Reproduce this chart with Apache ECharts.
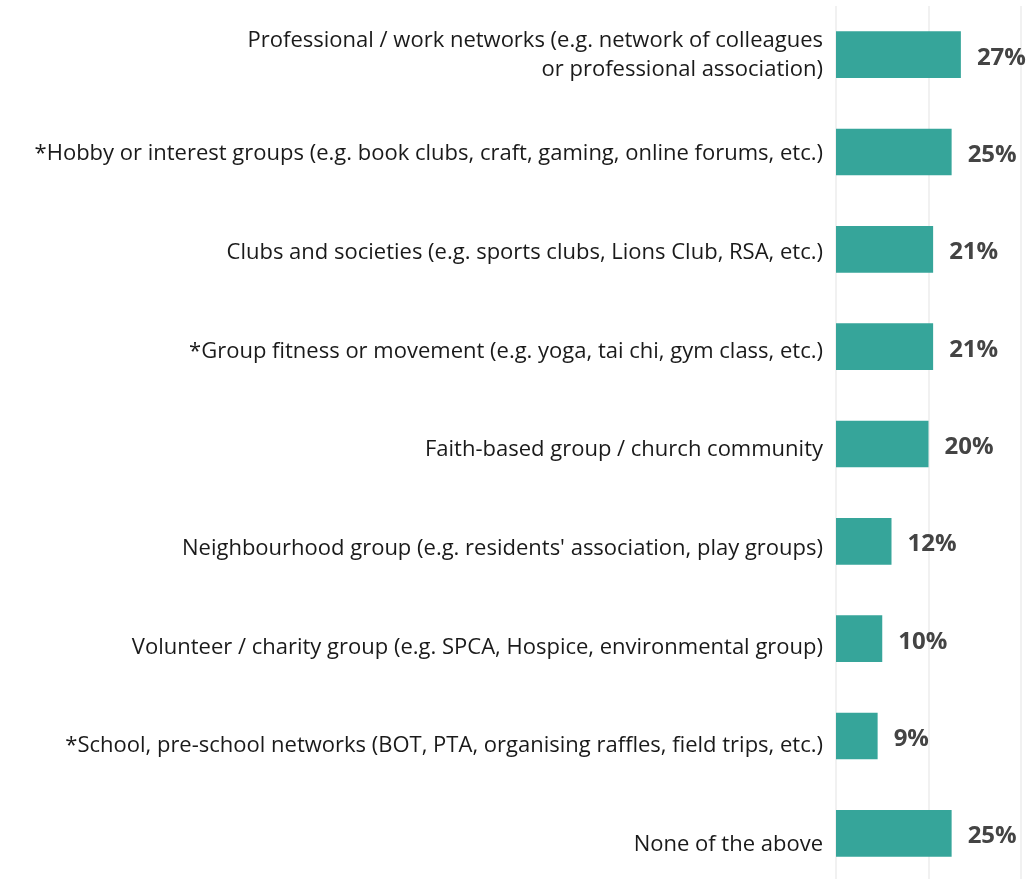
<!DOCTYPE html>
<html>
<head>
<meta charset="utf-8">
<script src="https://cdn.jsdelivr.net/npm/echarts@6/dist/echarts.min.js"></script>
<style>
    html, body { margin: 0; padding: 0; background: #fff; }
    #chart { width: 1033px; height: 879px; }
</style>
</head>
<body>
<div id="chart"></div>
<script>
    // 数据
    var categories = [
        'Professional / work networks (e.g. network of colleagues\nor professional association)',
        '*Hobby or interest groups (e.g. book clubs, craft, gaming, online forums, etc.)',
        'Clubs and societies (e.g. sports clubs, Lions Club, RSA, etc.)',
        '*Group fitness or movement (e.g. yoga, tai chi, gym class, etc.)',
        'Faith-based group / church community',
        'Neighbourhood group (e.g. residents\' association, play groups)',
        'Volunteer / charity group (e.g. SPCA, Hospice, environmental group)',
        '*School, pre-school networks (BOT, PTA, organising raffles, field trips, etc.)',
        'None of the above'
    ];
    var values = [27, 25, 21, 21, 20, 12, 10, 9, 25];

    var chart = echarts.init(document.getElementById('chart'));

    var option = {
        animation: false,
        grid: [
            { left: 836, top: 6, width: 185, height: 876, outerBoundsMode: 'none' },     // 柱子
            { left: 836, top: 6, width: 185, height: 888, outerBoundsMode: 'none' }      // 分类标签
        ],
        xAxis: [{
            gridIndex: 0,
            type: 'value',
            min: 0,
            max: 40,
            interval: 20,
            axisLine: { show: false },
            axisTick: { show: false },
            axisLabel: { show: false },
            splitLine: {
                show: true,
                lineStyle: { color: '#ececec', width: 1.5 }
            }
        }, {
            gridIndex: 1,
            type: 'value',
            min: 0,
            max: 40,
            show: false
        }],
        yAxis: [{
            gridIndex: 0,
            type: 'category',
            inverse: true,
            data: categories,
            axisLine: { show: false },
            axisTick: { show: false },
            axisLabel: { show: false }
        }, {
            gridIndex: 1,
            type: 'category',
            inverse: true,
            data: categories,
            axisLine: { show: false },
            axisTick: { show: false },
            splitLine: { show: false },
            axisLabel: {
                margin: 13,
                fontFamily: 'Open Sans',
                fontSize: 22,
                color: '#1a1a1a',
                lineHeight: 29,
                align: 'right'
            }
        }],
        series: [{
            type: 'bar',
            xAxisIndex: 0,
            yAxisIndex: 0,
            data: values,
            barWidth: '48%',
            itemStyle: { color: '#36a59a' },
            label: {
                show: true,
                position: 'right',
                distance: 16,
                offset: [0, 3],
                formatter: '{c}%',
                fontFamily: 'Open Sans',
                fontWeight: 'bold',
                fontSize: 24,
                color: '#444444'
            }
        }]
    };

    chart.setOption(option);
</script>
</body>
</html>
